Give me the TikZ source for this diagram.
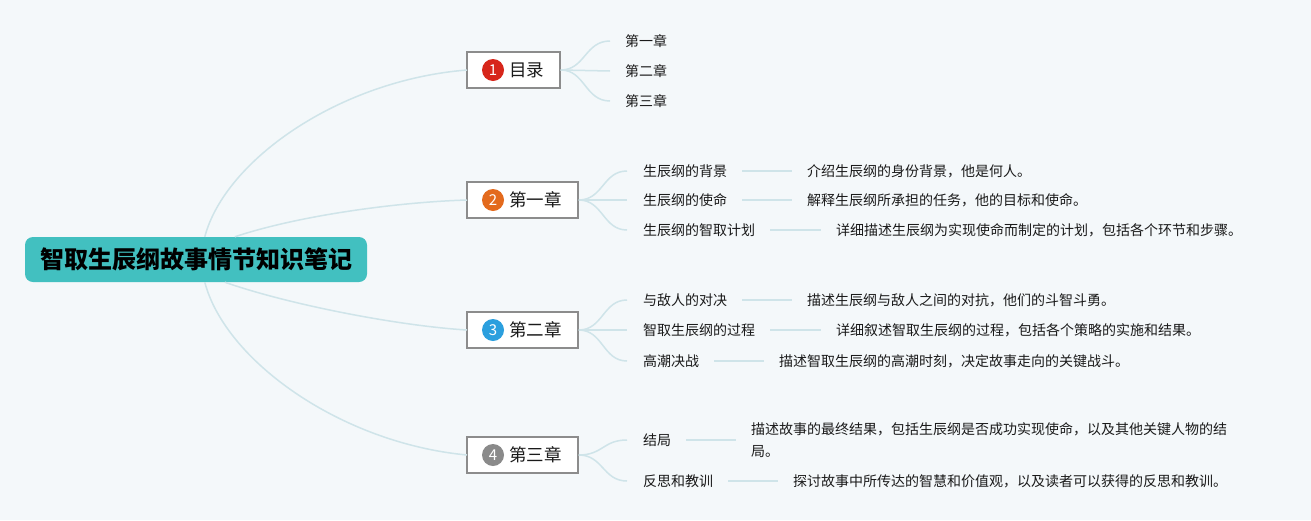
\documentclass[tikz,border=0pt]{standalone}
\usepackage{fontspec}
\setmainfont{Noto Sans CJK SC}
\usetikzlibrary{calc}
\definecolor{bgc}{HTML}{F4F8FA}
\definecolor{rootc}{HTML}{42C0C0}
\definecolor{branchc}{HTML}{CFE4E9}
\definecolor{boxc}{HTML}{8C8C8C}
\definecolor{txtc}{HTML}{1A1A1A}
\definecolor{numa}{HTML}{D7261B}
\definecolor{numb}{HTML}{E36A1D}
\definecolor{numc}{HTML}{2B9FDE}
\definecolor{numd}{HTML}{8A8A8A}
\tikzset{
  rootbox/.style={fill=rootc, rounded corners=8pt, minimum width=342pt, minimum height=45pt, inner sep=0pt, text=black, font=\bfseries\fontsize{24}{28}\selectfont},
  chapbox/.style={draw=boxc, line width=1.5pt, fill=white, minimum height=36pt, inner sep=0pt},
  numcirc/.style={circle, minimum size=22pt, inner sep=0pt, text=white, font=\fontsize{15}{17}\selectfont},
  chaplabel/.style={anchor=west, inner sep=0pt, text=txtc, font=\fontsize{17.5}{20}\selectfont},
  subtext/.style={anchor=west, inner sep=0pt, text=txtc, font=\fontsize{14}{16}\selectfont},
  desctext/.style={anchor=west, inner sep=0pt, text=txtc, align=left, font=\fontsize{14}{22}\selectfont},
  branch/.style={draw=branchc, line width=1.5pt},
}
\begin{document}
\begin{tikzpicture}[x=1pt,y=-1pt]
\fill[bgc] (0,0) rectangle (1311,520);
\useasboundingbox (0,0) rectangle (1311,520);

% root
\node[rootbox] (root) at (196,259.5) {智取生辰纲故事情节知识笔记};
\coordinate (r1) at ($(root.north west)+(180,0)$);
\coordinate (r2) at ($(root.north west)+(210,0)$);
\coordinate (r3) at ($(root.south west)+(200,0)$);
\coordinate (r4) at ($(root.south west)+(180,0)$);

% chapter boxes
\node[chapbox, minimum width=93pt] (c1) at (513.5,70) {};
\node[numcirc, fill=numa] (n1) at (493,70) {1};
\node[chaplabel] (l1) at (509,70) {目录};

\node[chapbox, minimum width=111pt] (c2) at (522.5,200) {};
\node[numcirc, fill=numb] (n2) at (493,200) {2};
\node[chaplabel] (l2) at (509,200) {第一章};

\node[chapbox, minimum width=111pt] (c3) at (522.5,330) {};
\node[numcirc, fill=numc] (n3) at (493,330) {3};
\node[chaplabel] (l3) at (509,330) {第二章};

\node[chapbox, minimum width=111pt] (c4) at (522.5,455) {};
\node[numcirc, fill=numd] (n4) at (493,455) {4};
\node[chaplabel] (l4) at (509,455) {第三章};

% root branches
\draw[branch] (r1) .. controls (225,160) and (340,80) .. ([xshift=0.75pt]c1.west);
\draw[branch] (r2) .. controls (300,215) and (400,202) .. ([xshift=0.75pt]c2.west);
\draw[branch] (r3) .. controls (290,305) and (400,326) .. ([xshift=0.75pt]c3.west);
\draw[branch] (r4) .. controls (225,360) and (340,443) .. ([xshift=0.75pt]c4.west);

% chapter 1 children
\node[subtext] (s11) at (625,41) {第一章};
\node[subtext] (s12) at (625,71) {第二章};
\node[subtext] (s13) at (625,101) {第三章};

% chapter 2 children
\node[subtext] (s21) at (643,171) {生辰纲的背景};
\node[subtext] (s22) at (643,200) {生辰纲的使命};
\node[subtext] (s23) at (643,230) {生辰纲的智取计划};
\node[desctext] (d21) at (807,171) {介绍生辰纲的身份背景，他是何人。};
\node[desctext] (d22) at (807,200) {解释生辰纲所承担的任务，他的目标和使命。};
\node[desctext] (d23) at (836,230) {详细描述生辰纲为实现使命而制定的计划，包括各个环节和步骤。};

% chapter 3 children
\node[subtext] (s31) at (643,300) {与敌人的对决};
\node[subtext] (s32) at (643,330) {智取生辰纲的过程};
\node[subtext] (s33) at (643,361) {高潮决战};
\node[desctext] (d31) at (807,300) {描述生辰纲与敌人之间的对抗，他们的斗智斗勇。};
\node[desctext] (d32) at (836,330) {详细叙述智取生辰纲的过程，包括各个策略的实施和结果。};
\node[desctext] (d33) at (779,361) {描述智取生辰纲的高潮时刻，决定故事走向的关键战斗。};

% chapter 4 children
\node[subtext] (s41) at (643,440) {结局};
\node[subtext] (s42) at (643,481) {反思和教训};
\node[desctext] (d41) at (751,440) {描述故事的最终结果，包括生辰纲是否成功实现使命，以及其他关键人物的结\\局。};
\node[desctext] (d42) at (793,481) {探讨故事中所传达的智慧和价值观，以及读者可以获得的反思和教训。};

% chapter-to-child curves
\draw[branch] (c1.east) .. controls (585,70) and (585,41) .. ([xshift=-15pt]s11.west);
\draw[branch] (c1.east) -- ([xshift=-15pt]s12.west);
\draw[branch] (c1.east) .. controls (585,70) and (585,101) .. ([xshift=-15pt]s13.west);

\draw[branch] (c2.east) .. controls (603,200) and (603,171) .. ([xshift=-16pt]s21.west);
\draw[branch] (c2.east) -- ([xshift=-16pt]s22.west);
\draw[branch] (c2.east) .. controls (603,200) and (603,230) .. ([xshift=-16pt]s23.west);

\draw[branch] (c3.east) .. controls (603,330) and (603,300) .. ([xshift=-16pt]s31.west);
\draw[branch] (c3.east) -- ([xshift=-16pt]s32.west);
\draw[branch] (c3.east) .. controls (603,330) and (603,361) .. ([xshift=-16pt]s33.west);

\draw[branch] (c4.east) .. controls (603,455) and (603,440) .. ([xshift=-16pt]s41.west);
\draw[branch] (c4.east) .. controls (603,455) and (603,481) .. ([xshift=-16pt]s42.west);

% label-to-description lines
\foreach \a/\b in {s21/d21,s22/d22,s23/d23,s31/d31,s32/d32,s33/d33,s42/d42}{
  \draw[branch] ([xshift=15pt]\a.east) -- ([xshift=-15pt]\b.west);
}
\draw[branch] ([xshift=15pt]s41.east) -- ([xshift=-15pt]s41.east -| d41.west);
\end{tikzpicture}
\end{document}
